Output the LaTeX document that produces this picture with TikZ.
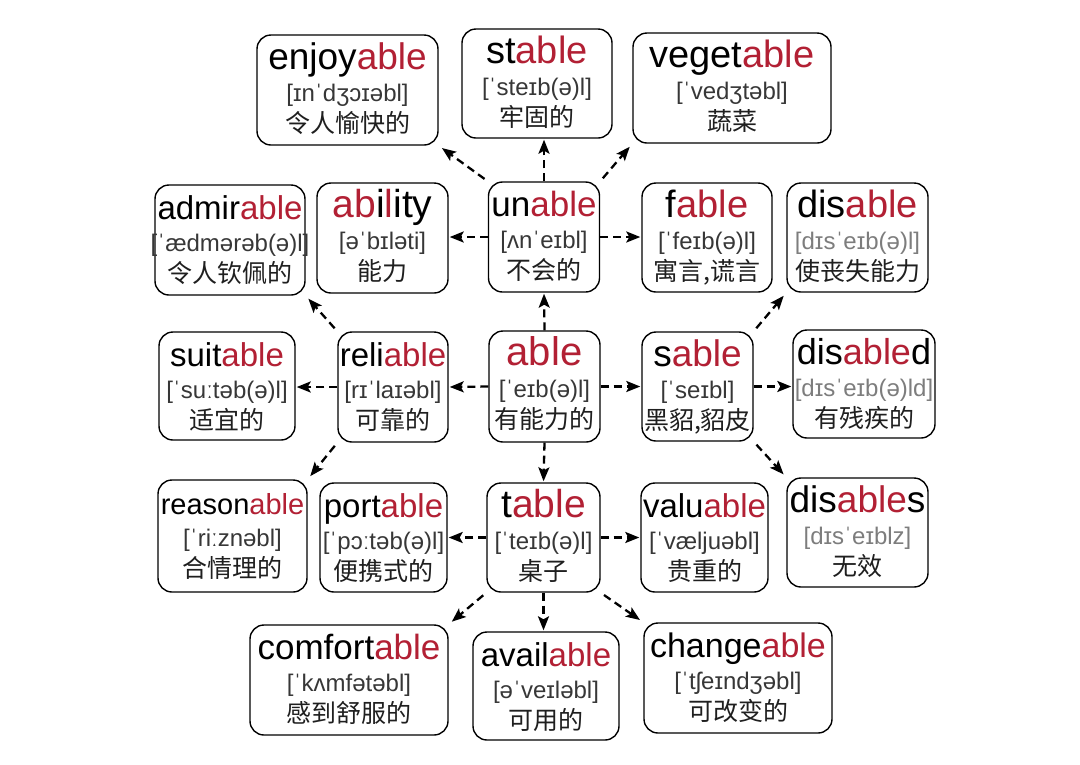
\documentclass[tikz,border=0pt]{standalone}
\usepackage{fontspec}
\setmainfont{Liberation Sans}
\newfontfamily\cjk{Noto Sans CJK SC}
\usetikzlibrary{arrows.meta}
\definecolor{ablered}{RGB}{178,32,52}
\definecolor{ipagray}{RGB}{55,55,55}
\definecolor{ipalight}{RGB}{125,125,125}
\newcommand\ab[1]{\textcolor{ablered}{#1}}
% box with word, phonetics and meaning
\newcommand\wordbox[8]{%
  \node[wbox, minimum width=#3, minimum height=#4] (#1) at (#2) {};
  \node[wtxt, font=\fontsize{#5}{#5}\selectfont] (#1-w) at ([yshift=-35pt]#1.north) {#6};
  \node[itxt] (#1-i) at ([yshift=-67pt]#1.north) {#7};
  \node[ctxt] (#1-c) at ([yshift=-98pt]#1.north) {#8};
}

\begin{document}
\begin{tikzpicture}[x=1pt, y=-1pt,
  wbox/.style = {draw, line width=1.4pt, rounded corners=14pt, fill=white, inner sep=0pt},
  wtxt/.style = {anchor=base, inner sep=0pt},
  itxt/.style = {anchor=base, inner sep=0pt, text=ipagray, font=\fontsize{24}{24}\selectfont},
  ctxt/.style = {anchor=base, inner sep=0pt, text=black!88, font=\cjk\fontsize{25}{25}\selectfont},
  link/.style = {line width=2.3pt, dash pattern=on 8pt off 5pt, -{Stealth[length=14pt,width=11pt,inset=3pt]}, shorten >=1pt},
  corner/.style = {shorten <=4pt, shorten >=4pt}]
  \fill[white] (0,0) rectangle (1080,764);
  \useasboundingbox (0,0) rectangle (1080,764);
  % top row
  \wordbox{enjoyable}{347.5,90}{181}{110}{37}{enjoy\ab{able}}{[ɪnˈdʒɔɪəbl]}{令人愉快的}
  \wordbox{stable}{537,83.5}{150}{109}{38}{st\ab{able}}{[ˈsteɪb(ə)l]}{牢固的}
  \wordbox{vegetable}{732,88}{198}{110}{38}{veget\ab{able}}{[ˈvedʒtəbl]}{蔬菜}
  % second row
  \wordbox{admirable}{230,240}{150}{110}{33}{admir\ab{able}}{[ˈædmərəb(ə)l]}{令人钦佩的}
  \wordbox{ability}{382.5,238}{131}{110}{39}{\ab{ab}i\ab{l}ity}{[əˈbɪləti]}{能力}
  \wordbox{unable}{544,237}{111}{110}{35}{un\ab{able}}{[ʌnˈeɪbl]}{不会的}
  \wordbox{fable}{707,237.5}{130}{109}{38}{f\ab{able}}{[ˈfeɪb(ə)l]}{寓言,谎言}
  \wordbox{disable}{857.5,237.5}{141}{109}{38}{dis\ab{able}}{\textcolor{ipalight}{[dɪsˈeɪb(ə)l]}}{使丧失能力}
  % middle row
  \wordbox{suitable}{227,386}{136}{108}{33}{suit\ab{able}}{[ˈsuːtəb(ə)l]}{适宜的}
  \wordbox{reliable}{393,387}{110}{110}{33}{reli\ab{able}}{[rɪˈlaɪəbl]}{可靠的}
  \wordbox{able}{544.5,386.5}{111}{111}{40}{\ab{able}}{[ˈeɪb(ə)l]}{有能力的}
  \wordbox{sable}{697.5,386.5}{111}{109}{37}{s\ab{able}}{[ˈseɪbl]}{黑貂,貂皮}
  \wordbox{disabled}{864,384}{142}{108}{36}{dis\ab{able}d}{\textcolor{ipalight}{[dɪsˈeɪb(ə)ld]}}{有残疾的}
  % fourth row
  \wordbox{reasonable}{232.5,536}{149}{112}{29}{reason\ab{able}}{[ˈriːznəbl]}{合情理的}
  \wordbox{portable}{383.5,537.5}{127}{109}{33}{port\ab{able}}{[ˈpɔːtəb(ə)l]}{便携式的}
  \wordbox{table}{543.5,537.5}{113}{109}{39}{t\ab{able}}{[ˈteɪb(ə)l]}{桌子}
  \wordbox{valuable}{704.5,537.5}{127}{109}{33}{valu\ab{able}}{[ˈvæljuəbl]}{贵重的}
  \wordbox{disables}{857.5,532.5}{141}{109}{37}{dis\ab{able}s}{\textcolor{ipalight}{[dɪsˈeɪblz]}}{无效}
  % bottom row
  \wordbox{comfortable}{349,680}{198}{110}{35}{comfort\ab{able}}{[ˈkʌmfətəbl]}{感到舒服的}
  \wordbox{available}{546,686}{146}{108}{33}{avail\ab{able}}{[əˈveɪləbl]}{可用的}
  \wordbox{changeable}{738,678}{188}{110}{34}{change\ab{able}}{[ˈtʃeɪndʒəbl]}{可改变的}
  % arrows
  \draw[link] (able.north) -- (unable.south);
  \draw[link] (able.south) -- (table.north);
  \draw[link] (able.west) -- (reliable.east);
  \draw[link] (able.east) -- (sable.west);
  \draw[link] (reliable.west) -- (reliable.west -| suitable.east);
  \draw[link] (sable.east) -- (sable.east -| disabled.west);
  \draw[link] (unable.west) -- (unable.west -| ability.east);
  \draw[link] (unable.east) -- (unable.east -| fable.west);
  \draw[link] (table.west) -- (table.west -| portable.east);
  \draw[link] (table.east) -- (table.east -| valuable.west);
  \draw[link] (unable.north) -- (unable.north |- stable.south);
  \draw[link] (table.south) -- (table.south |- available.north);
  \draw[link, corner] (unable.north west) -- (enjoyable.south east);
  \draw[link, corner] (unable.north east) -- (vegetable.south west);
  \draw[link, corner] (reliable.north west) -- (admirable.south east);
  \draw[link, corner] (reliable.south west) -- (reasonable.north east);
  \draw[link, corner] (sable.north east) -- (disable.south west);
  \draw[link, corner] (sable.south east) -- (disables.north west);
  \draw[link, corner] (table.south west) -- (comfortable.north east);
  \draw[link, corner] (table.south east) -- (changeable.north west);
\end{tikzpicture}
\end{document}
